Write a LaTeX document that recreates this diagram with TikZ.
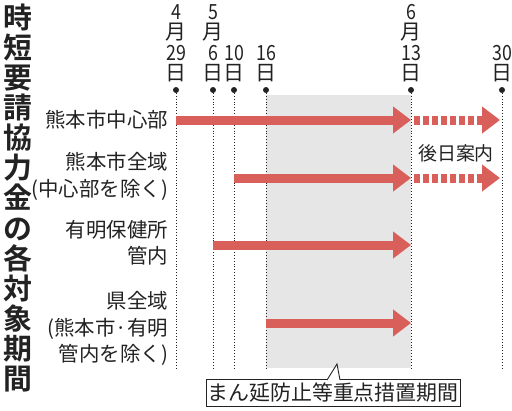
\documentclass[tikz,border=0pt]{standalone}
\usepackage{fontspec}
\usepackage{xcolor}
\newfontfamily\jpfont{Noto Sans CJK JP}[BoldFont={Noto Sans CJK JP Bold}]
\newfontfamily\numfont{Noto Sans CJK JP}[FakeStretch=0.85]
\usetikzlibrary{arrows.meta,positioning}
\definecolor{runred}{HTML}{D9605A}
\definecolor{periodgray}{HTML}{E6E6E6}
\definecolor{inkgray}{HTML}{222222}

\begin{document}
\begin{tikzpicture}[x=1bp,y=-1bp,
  every node/.style={text=inkgray,inner sep=0pt,outer sep=0pt},
  area/.style={anchor=east,align=right,font=\jpfont\fontsize{20.5}{26.5}\selectfont},
  dt/.style={font=\jpfont\fontsize{21}{22}\selectfont},
  dnum/.style={font=\numfont\fontsize{21}{22}\selectfont},
  guide/.style={dotted,line width=0.9bp,inkgray},
  run/.style={line width=9bp,runred,-{Triangle[length=18bp,width=26bp]}},
  later/.style={run,dash pattern=on 6bp off 3bp,shorten <=3bp,shorten >=2bp}]
\useasboundingbox (0,0) rectangle (512,410);
% period of priority measures
\fill[periodgray] (266,95) rectangle (411,368);
% title
\node[align=center,font=\jpfont\bfseries\fontsize{29}{30.2}\selectfont] (title) at (18,198)
  {時\\短\\要\\請\\協\\力\\金\\の\\各\\対\\象\\期\\間};
% date columns
\foreach \x/\d/\n in {176/29/a,213/6/b,234/10/c,266/16/d,411/13/e,502/30/f}{
  \node[dt] (day\n) at (\x,73) {日};
  \node[dnum] (num\n) at (\x,53) {\d};
  \coordinate (top\n) at (\x,90);
  \coordinate (bot\n) at (\x,368);
  \draw[guide] (top\n) -- (bot\n);
  \fill[inkgray] (top\n) circle (3bp);
}
\foreach \m/\n in {4/a,5/b,6/e}{
  \node[dt] (mon\n) at ([yshift=20.5bp]num\n.center) {月};
  \node[dnum] (mno\n) at ([yshift=41bp]num\n.center) {\m};
}
% rows
\coordinate (row1) at (0,120);
\coordinate (row2) at (0,178);
\coordinate (row3) at (0,245);
\coordinate (row4) at (0,323);
\node[area] (city) at (168,120) {熊本市中心部};
\node[area] (whole) at (168,176.5) {熊本市全域\\(中心部を除く)};
\node[area] (ariake) at (168,242.5) {有明保健所\\管内};
\node[area] (pref) at (168,328.5) {県全域\\(熊本市·有明\\管内を除く)};
\draw[run] (topa|-row1) -- (tope|-row1);
\draw[later] (tope|-row1) -- (topf|-row1);
\draw[run] (topc|-row2) -- (tope|-row2);
\draw[later] (tope|-row2) -- (topf|-row2);
\draw[run] (topb|-row3) -- (tope|-row3);
\draw[run] (topd|-row4) -- (tope|-row4);
\node[font=\jpfont\fontsize{19}{22}\selectfont] (notice) at (456,153) {後日案内};
% callout
\node[draw=inkgray,fill=white,line width=0.9bp,minimum width=254bp,minimum height=27bp,
  font=\jpfont\fontsize{21}{24}\selectfont] (callout) at (333,392.5) {まん延防止等重点措置期間};
\coordinate (tip) at (337,364);
\draw[inkgray,fill=white,line width=0.9bp] ([xshift=-6bp,yshift=-1bp]callout.north) -- (tip) -- ([xshift=7bp,yshift=-1bp]callout.north);
\end{tikzpicture}
\end{document}
